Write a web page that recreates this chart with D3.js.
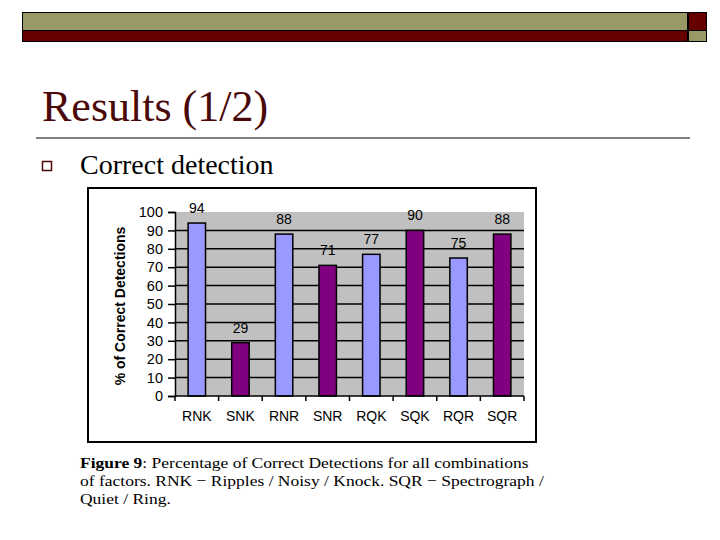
<!DOCTYPE html>
<html>
<head>
<meta charset="utf-8">
<script src="https://cdn.jsdelivr.net/npm/d3@7"></script>
<style>
  html, body { margin: 0; padding: 0; background: #fff; }
  svg { display: block; }
</style>
</head>
<body>
<svg id="slide" width="720" height="540"></svg>
<script>
// values
const categories = ["RNK", "SNK", "RNR", "SNR", "RQK", "SQK", "RQR", "SQR"];
const detections = [94, 29, 88, 71, 77, 90, 75, 88];
const yTicks = [0, 10, 20, 30, 40, 50, 60, 70, 80, 90, 100];
const captionLines = [
  "of factors. RNK \u2212 Ripples / Noisy / Knock. SQR \u2212 Spectrograph /",
  "Quiet / Ring."
];

const olive = "#999966",
  maroon = "#660000",
  titleColor = "#4a0808",
  plotGray = "#c0c0c0",
  sansFont = "'Liberation Sans', Arial, sans-serif",
  serifFont = "'Liberation Serif', 'Times New Roman', serif";

const svg = d3.select("#slide");

// slide header bars
const header = svg.append("g").attr("stroke", "#000").attr("stroke-width", 1);
header.append("rect").attr("x", 22.5).attr("y", 12.5).attr("width", 665).attr("height", 18).attr("fill", olive);
header.append("rect").attr("x", 22.5).attr("y", 30.5).attr("width", 665).attr("height", 11).attr("fill", maroon);
header.append("rect").attr("x", 688.5).attr("y", 12.5).attr("width", 18).attr("height", 18).attr("fill", maroon);
header.append("rect").attr("x", 688.5).attr("y", 30.5).attr("width", 18).attr("height", 11).attr("fill", olive);

// title + rule
svg.append("text")
  .attr("x", 42).attr("y", 121)
  .attr("font-family", serifFont).attr("font-size", 44)
  .attr("fill", titleColor)
  .text("Results (1/2)");

svg.append("line")
  .attr("x1", 36).attr("x2", 690).attr("y1", 138).attr("y2", 138)
  .attr("stroke", "#000").attr("stroke-width", 1);

// bullet
svg.append("rect")
  .attr("x", 42.5).attr("y", 161.5).attr("width", 9).attr("height", 9)
  .attr("fill", "none").attr("stroke", titleColor).attr("stroke-width", 1.5);

svg.append("text")
  .attr("x", 80).attr("y", 174)
  .attr("font-family", serifFont).attr("font-size", 28)
  .attr("fill", "#000")
  .text("Correct detection");

// chart frame
svg.append("rect")
  .attr("x", 88).attr("y", 188).attr("width", 448).attr("height", 254)
  .attr("fill", "#fff").attr("stroke", "#000").attr("stroke-width", 2);

const plot = { left: 175, right: 524, top: 212, bottom: 396 };

const x = d3.scaleBand().domain(categories).range([plot.left, plot.right]);
const y = d3.scaleLinear().domain([0, 100]).range([plot.bottom, plot.top]);
const color = d3.scaleOrdinal().domain(["R", "S"]).range(["#9999ff", "#800080"]);

const chart = svg.append("g");

chart.append("rect")
  .attr("x", plot.left).attr("y", plot.top)
  .attr("width", plot.right - plot.left).attr("height", plot.bottom - plot.top)
  .attr("fill", plotGray);

// gridlines
chart.append("g")
  .selectAll("line")
  .data(yTicks.filter((t) => t > 0 && t < 100))
  .join("line")
  .attr("x1", plot.left).attr("x2", plot.right)
  .attr("y1", (d) => y(d)).attr("y2", (d) => y(d))
  .attr("stroke", "#000").attr("stroke-width", 1.5);

// bars
const barW = x.bandwidth() * 0.4;
chart.append("g")
  .selectAll("rect")
  .data(categories)
  .join("rect")
  .attr("x", (d) => x(d) + (x.bandwidth() - barW) / 2)
  .attr("y", (d, i) => y(detections[i]))
  .attr("width", barW)
  .attr("height", (d, i) => y(0) - y(detections[i]))
  .attr("fill", (d) => color(d[0]))
  .attr("stroke", "#000")
  .attr("stroke-width", 1.5);

// value labels
chart.append("g")
  .selectAll("text")
  .data(categories)
  .join("text")
  .attr("x", (d) => x(d) + x.bandwidth() / 2)
  .attr("y", (d, i) => y(detections[i]) - 10)
  .attr("text-anchor", "middle")
  .attr("font-family", sansFont).attr("font-size", 14)
  .attr("fill", "#000")
  .text((d, i) => detections[i]);

// y axis
const yAxis = d3.axisLeft(y).tickValues(yTicks).tickSize(7).tickPadding(5);
const yG = chart.append("g").attr("transform", `translate(${plot.left},0)`).call(yAxis);
yG.select(".domain").attr("stroke", "#000").attr("stroke-width", 1.5);
yG.selectAll(".tick line").attr("stroke", "#000").attr("stroke-width", 1.5);
yG.selectAll(".tick text").attr("font-family", sansFont).attr("font-size", 14.5).attr("fill", "#000");

// x axis: ticks fall between the categories
const xAxisLine = chart.append("g");
xAxisLine.append("line")
  .attr("x1", plot.left).attr("x2", plot.right)
  .attr("y1", plot.bottom).attr("y2", plot.bottom)
  .attr("stroke", "#000").attr("stroke-width", 1.5);
xAxisLine.selectAll("line.sep")
  .data(categories.concat([null]))
  .join("line")
  .attr("class", "sep")
  .attr("x1", (d) => (d === null ? plot.right : x(d)))
  .attr("x2", (d) => (d === null ? plot.right : x(d)))
  .attr("y1", plot.bottom).attr("y2", plot.bottom + 5)
  .attr("stroke", "#000").attr("stroke-width", 1.5);
xAxisLine.selectAll("text")
  .data(categories)
  .join("text")
  .attr("x", (d) => x(d) + x.bandwidth() / 2)
  .attr("y", 421)
  .attr("text-anchor", "middle")
  .attr("font-family", sansFont).attr("font-size", 14)
  .attr("fill", "#000")
  .text((d) => d);

// y axis title
chart.append("text")
  .attr("transform", `translate(125,${(plot.top + plot.bottom) / 2 + 2})rotate(-90)`)
  .attr("text-anchor", "middle")
  .attr("font-family", sansFont).attr("font-size", 14).attr("font-weight", "bold")
  .attr("fill", "#000")
  .text("% of Correct Detections");

// caption - the original type is wide, so stretch it a bit sideways
const capScale = 1.13;
const caption = svg.append("g")
  .attr("transform", `scale(${capScale},1)`)
  .append("text")
  .attr("font-family", serifFont).attr("font-size", 15.5).attr("fill", "#000");
const first = caption.append("tspan").attr("x", 80 / capScale).attr("y", 468);
first.append("tspan").attr("font-weight", "bold").text("Figure 9");
first.append("tspan").text(": Percentage of Correct Detections for all combinations");
caption.selectAll("tspan.line")
  .data(captionLines)
  .join("tspan")
  .attr("class", "line")
  .attr("x", 80 / capScale)
  .attr("y", (d, i) => 486 + i * 18)
  .text((d) => d);
</script>
</body>
</html>
